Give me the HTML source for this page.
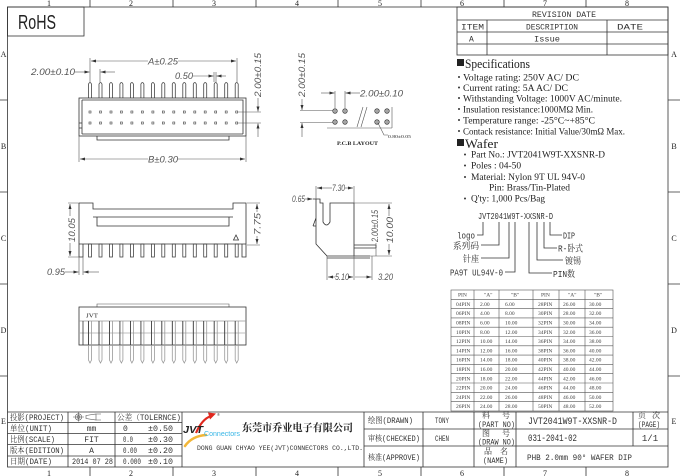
<!DOCTYPE html>
<html><head><meta charset="utf-8"><style>
html,body{margin:0;padding:0;background:#fff;width:680px;height:476px;overflow:hidden}
svg{display:block}
.ln{stroke:#333;stroke-width:0.8;fill:none}
.th{stroke:#555;stroke-width:0.6;fill:none}
.d{font-family:"Liberation Sans",sans-serif;font-style:italic;font-size:9px;fill:#555}
.s{font-family:"Liberation Serif","Noto Serif CJK SC",serif;fill:#222}
.m{font-family:"Liberation Mono","Noto Serif CJK SC",monospace;fill:#333}
.t{font-family:"Liberation Serif",serif;font-size:5.5px;fill:#444}
</style></head><body>
<svg width="680" height="476" viewBox="0 0 680 476" xmlns="http://www.w3.org/2000/svg">
<defs>
<marker id="a" viewBox="0 0 10 6" refX="10" refY="3" markerWidth="5" markerHeight="3" orient="auto" markerUnits="userSpaceOnUse"><path d="M0,0L10,3L0,6z" fill="#333"/></marker>
<g id="tp"><path d="M-1.5,98V84Q0,81 1.5,84V98" fill="none" stroke="#444" stroke-width="0.8"/><rect x="-1" y="111" width="2" height="2" fill="none" stroke="#444" stroke-width="0.6"/><rect x="-1" y="122" width="2" height="2" fill="none" stroke="#444" stroke-width="0.6"/></g>
<rect id="fp" x="-1.5" y="244" width="3" height="13" fill="none" stroke="#444" stroke-width="0.8"/>
<g id="bp"><path d="M-1.5,321V360L0,363L1.5,360V321" fill="none" stroke="#999" stroke-width="0.8"/><line x1="-1.5" y1="321" x2="-1.5" y2="345" stroke="#333" stroke-width="0.8"/></g>
<g id="h"><circle r="2.2" fill="none" stroke="#333" stroke-width="0.8"/><path d="M-2.2,0H2.2M0,-2.2V2.2" stroke="#333" stroke-width="0.5"/></g>
</defs>

<!-- frame -->
<rect x="7.5" y="7" width="660.5" height="460" class="ln"/>
<path class="ln" d="M90,0V7M173,0V7M256,0V7M338,0V7M421,0V7M504,0V7M586,0V7M90,467V476M173,467V476M256,467V476M338,467V476M421,467V476M504,467V476M586,467V476M0,100H7.5M0,192H7.5M0,284H7.5M0,376H7.5M668,100H680M668,192H680M668,284H680M668,376H680"/>
<g class="s" font-size="8" fill="#555" text-anchor="middle">
<text x="49" y="6">1</text><text x="131" y="6">2</text><text x="214" y="6">3</text><text x="297" y="6">4</text><text x="380" y="6">5</text><text x="462" y="6">6</text><text x="545" y="6">7</text><text x="627" y="6">8</text>
<text x="49" y="476">1</text><text x="131" y="476">2</text><text x="214" y="476">3</text><text x="297" y="476">4</text><text x="380" y="476">5</text><text x="462" y="476">6</text><text x="545" y="476">7</text><text x="627" y="476">8</text>
<text x="3.5" y="57">A</text><text x="3.5" y="149">B</text><text x="3.5" y="241">C</text><text x="3.5" y="333">D</text><text x="3.5" y="424">E</text>
<text x="674" y="57">A</text><text x="674" y="149">B</text><text x="674" y="241">C</text><text x="674" y="333">D</text><text x="674" y="424">E</text>
</g>

<!-- RoHS -->
<rect x="7.5" y="7" width="76.5" height="29" class="ln"/>
<text x="18" y="29" font-family="Liberation Sans,sans-serif" font-size="20" fill="#222" textLength="38" lengthAdjust="spacingAndGlyphs">RoHS</text>

<!-- TOP VIEW -->
<use href="#tp" x="90"/><use href="#tp" x="100.5"/><use href="#tp" x="111"/><use href="#tp" x="121.4"/><use href="#tp" x="131.9"/><use href="#tp" x="142.4"/><use href="#tp" x="152.9"/><use href="#tp" x="163.3"/><use href="#tp" x="173.8"/><use href="#tp" x="184.3"/><use href="#tp" x="194.8"/><use href="#tp" x="205.2"/><use href="#tp" x="215.7"/><use href="#tp" x="226.2"/><use href="#tp" x="236.7"/>
<rect x="79" y="98" width="167" height="38" class="ln"/>
<path class="ln" d="M82,100V134M82,100H243V134M82,134H243M97,136V140H229V136M79,123H82M79,128H82"/>
<!-- dims top view -->
<path class="th" d="M90,58V82M237,58V82M100,69V82M214,72V82M216,72V82"/>
<path class="th" d="M148,61H91" marker-end="url(#a)"/><path class="th" d="M178,61H236" marker-end="url(#a)"/>
<text class="d" x="148" y="64.5" textLength="30" lengthAdjust="spacingAndGlyphs">A±0.25</text>
<text class="d" x="31" y="75" textLength="44" lengthAdjust="spacingAndGlyphs">2.00±0.10</text>
<path class="th" d="M75,72H89.5" marker-end="url(#a)"/><path class="th" d="M115,72H100.5" marker-end="url(#a)"/>
<text class="d" x="175" y="79" textLength="18" lengthAdjust="spacingAndGlyphs">0.50</text>
<path class="th" d="M193,76H213.5" marker-end="url(#a)"/><path class="th" d="M226,76H216.5" marker-end="url(#a)"/>
<path class="th" d="M79,136V162M246,136V162"/>
<path class="th" d="M148,159H80" marker-end="url(#a)"/><path class="th" d="M178,159H245" marker-end="url(#a)"/>
<text class="d" x="148" y="162.5" textLength="30" lengthAdjust="spacingAndGlyphs">B±0.30</text>
<!-- right side dim -->
<path class="th" d="M238,112H261M238,123H261"/>
<path class="th" d="M258,98V111.5" marker-end="url(#a)"/><path class="th" d="M258,137V123.5" marker-end="url(#a)"/>
<text class="d" transform="translate(261,97) rotate(-90)" textLength="44" lengthAdjust="spacingAndGlyphs">2.00±0.15</text>

<!-- PCB LAYOUT -->
<use href="#h" x="335" y="111"/><use href="#h" x="345" y="111"/><use href="#h" x="377" y="111"/><use href="#h" x="387" y="111"/>
<use href="#h" x="335" y="122"/><use href="#h" x="345" y="122"/><use href="#h" x="377" y="122"/><use href="#h" x="387" y="122"/>
<text class="d" transform="translate(305,97) rotate(-90)" textLength="44" lengthAdjust="spacingAndGlyphs">2.00±0.15</text>
<path class="th" d="M300,110.5H333M300,122.5H333M335,91V108M345,91V108M392,107V128M327,128H392M357,127L363,107M361,127L367,107M378,123L384,135H388"/>
<path class="th" d="M302,99V110" marker-end="url(#a)"/><path class="th" d="M302,137V123" marker-end="url(#a)"/>
<path class="th" d="M321,93H334.5" marker-end="url(#a)"/><path class="th" d="M360,93H345.5" marker-end="url(#a)"/>
<text class="d" x="360" y="96.5" textLength="43" lengthAdjust="spacingAndGlyphs">2.00±0.10</text>
<text class="s" x="388" y="138" font-size="4.5" textLength="23" lengthAdjust="spacingAndGlyphs">0.80±0.05</text>
<text class="s" x="337" y="145" font-size="5.5" font-weight="bold" textLength="41" lengthAdjust="spacingAndGlyphs">P.C.B LAYOUT</text>

<!-- REVISION TABLE -->
<rect x="457" y="7" width="211" height="48" class="ln"/>
<path class="ln" d="M457,20H668M457,32H668M457,44H668M487,20V55M607,20V55"/>
<g class="m" font-size="8">
<text x="532" y="17" textLength="64" lengthAdjust="spacingAndGlyphs">REVISION DATE</text>
<text x="461" y="29.5" textLength="23" lengthAdjust="spacingAndGlyphs">ITEM</text>
<text x="526" y="29.5" textLength="52" lengthAdjust="spacingAndGlyphs">DESCRIPTION</text>
<text x="617" y="29.5" textLength="26" lengthAdjust="spacingAndGlyphs">DATE</text>
<text x="469" y="41.5">A</text>
<text x="534" y="41.5" textLength="26" lengthAdjust="spacingAndGlyphs">Issue</text>
</g>

<!-- SPECIFICATIONS -->
<rect x="457" y="59" width="7" height="7" fill="#222"/>
<text class="s" x="465" y="68" font-size="12.5" textLength="65" lengthAdjust="spacingAndGlyphs">Specifications</text>
<g fill="#333"><circle cx="459" cy="77" r="1"/><circle cx="459" cy="87.5" r="1"/><circle cx="459" cy="98" r="1"/><circle cx="459" cy="109" r="1"/><circle cx="459" cy="120" r="1"/><circle cx="459" cy="131" r="1"/></g>
<g class="s" font-size="9.5">
<text x="463" y="80.5" textLength="116" lengthAdjust="spacingAndGlyphs">Voltage rating: 250V AC/ DC</text>
<text x="463" y="91" textLength="105" lengthAdjust="spacingAndGlyphs">Current rating: 5A AC/ DC</text>
<text x="463" y="101.5" textLength="159" lengthAdjust="spacingAndGlyphs">Withstanding Voltage: 1000V AC/minute.</text>
<text x="463" y="112.5" textLength="130" lengthAdjust="spacingAndGlyphs">Insulation resistance:1000MΩ Min.</text>
<text x="463" y="123.5" textLength="132" lengthAdjust="spacingAndGlyphs">Temperature range: -25°C~+85°C</text>
<text x="463" y="134.5" textLength="162" lengthAdjust="spacingAndGlyphs">Contack resistance: Initial Value/30mΩ Max.</text>
</g>
<rect x="457" y="139" width="7" height="7" fill="#222"/>
<text class="s" x="465" y="148" font-size="12.5" textLength="33" lengthAdjust="spacingAndGlyphs">Wafer</text>
<g fill="#333"><circle cx="465" cy="154.5" r="1"/><circle cx="465" cy="165.5" r="1"/><circle cx="465" cy="177" r="1"/><circle cx="465" cy="198.5" r="1"/></g>
<g class="s" font-size="9.5">
<text x="471" y="157.5" textLength="134" lengthAdjust="spacingAndGlyphs">Part No.: JVT2041W9T-XXSNR-D</text>
<text x="471" y="168.5">Poles : 04-50</text>
<text x="471" y="180" textLength="114" lengthAdjust="spacingAndGlyphs">Material: Nylon 9T UL 94V-0</text>
<text x="489" y="190.5" textLength="81" lengthAdjust="spacingAndGlyphs">Pin: Brass/Tin-Plated</text>
<text x="471" y="201.5" textLength="74" lengthAdjust="spacingAndGlyphs">Q'ty: 1,000 Pcs/Bag</text>
</g>

<!-- part number breakdown -->
<g class="m" font-size="9">
<text x="478" y="219" textLength="75" lengthAdjust="spacingAndGlyphs">JVT2041W9T-XXSNR-D</text>
<text x="457" y="238.5" textLength="18" lengthAdjust="spacingAndGlyphs">logo</text>
<text x="453" y="249" textLength="26" lengthAdjust="spacingAndGlyphs">系列码</text>
<text x="463" y="262" textLength="16" lengthAdjust="spacingAndGlyphs">针座</text>
<text x="450" y="275.5" textLength="53" lengthAdjust="spacingAndGlyphs">PA9T UL94V-0</text>
<text x="563" y="238.5" textLength="12" lengthAdjust="spacingAndGlyphs">DIP</text>
<text x="558" y="251.5" textLength="25" lengthAdjust="spacingAndGlyphs">R-卧式</text>
<text x="565" y="264" textLength="16" lengthAdjust="spacingAndGlyphs">镀锡</text>
<text x="553" y="277" textLength="22" lengthAdjust="spacingAndGlyphs">PIN数</text>
</g>
<path class="ln" d="M477,235H483V222M481,245H499V222M481,258H509V222M505,272H515V222M550,222V235H562M544,222V248H557M537,222V260H563M529,222V273H552"/>

<!-- FRONT VIEW -->
<path class="ln" d="M79,203H93V209H233V203H246V244H79V203M79,203V257H83V244M93,217H233M97,217V226H229V217M242,244V257H246V244"/>
<use href="#fp" x="90"/><use href="#fp" x="100.5"/><use href="#fp" x="111"/><use href="#fp" x="121.4"/><use href="#fp" x="131.9"/><use href="#fp" x="142.4"/><use href="#fp" x="152.9"/><use href="#fp" x="163.3"/><use href="#fp" x="173.8"/><use href="#fp" x="184.3"/><use href="#fp" x="194.8"/><use href="#fp" x="205.2"/><use href="#fp" x="215.7"/><use href="#fp" x="226.2"/><use href="#fp" x="236.7"/>
<path class="ln" d="M236,235L233.5,240H238.5Z"/>
<path class="th" d="M68,203H79M68,257H79M79,257V275M83,257V275M247,203H260M247,245H260"/>
<path class="th" d="M70,216V204" marker-end="url(#a)"/><path class="th" d="M70,243V256" marker-end="url(#a)"/>
<text class="d" transform="translate(75,242) rotate(-90)" textLength="24" lengthAdjust="spacingAndGlyphs">10.05</text>
<path class="th" d="M257,212V204" marker-end="url(#a)"/><path class="th" d="M257,236V244" marker-end="url(#a)"/>
<text class="d" transform="translate(260.5,235) rotate(-90)" textLength="22" lengthAdjust="spacingAndGlyphs">7.75</text>
<text class="d" x="47" y="275" textLength="18" lengthAdjust="spacingAndGlyphs">0.95</text>
<path class="th" d="M65,272H78.5" marker-end="url(#a)"/><path class="th" d="M99,272H83.5" marker-end="url(#a)"/>

<!-- SIDE VIEW -->
<path class="ln" d="M313,199H320V203H323V222Q326.5,228 330,222V203H354V256M316,199V244L327,256H370M313,226L316,218M313,226H316M327,258H370M354,245H376M354,248H376M376,245V248"/>
<path class="th" d="M316,186V199M354,186V280M354,203H392M370,256H392M327,256V280M372,256V280M376,243V256"/>
<path class="th" d="M332,188H317" marker-end="url(#a)"/><path class="th" d="M345,188H353" marker-end="url(#a)"/>
<text class="d" x="332" y="191" font-size="8" textLength="13" lengthAdjust="spacingAndGlyphs">7.30</text>
<text class="d" x="292" y="202" font-size="8" textLength="13" lengthAdjust="spacingAndGlyphs">0.65</text>
<path class="th" d="M305,199H312.5" marker-end="url(#a)"/>
<path class="th" d="M389,216V204" marker-end="url(#a)"/><path class="th" d="M389,244V255" marker-end="url(#a)"/>
<text class="d" transform="translate(393,243) rotate(-90)" textLength="26" lengthAdjust="spacingAndGlyphs">10.00</text>
<text class="d" transform="translate(378,242) rotate(-90)" font-size="6" textLength="32" lengthAdjust="spacingAndGlyphs">2.00±0.15</text>
<path class="th" d="M335,277H328" marker-end="url(#a)"/><path class="th" d="M349,277H353" marker-end="url(#a)"/>
<text class="d" x="335" y="280" font-size="8" textLength="14" lengthAdjust="spacingAndGlyphs">5.10</text>
<path class="th" d="M355,277H371.5" marker-end="url(#a)"/>
<text class="d" x="378" y="280" font-size="8" textLength="15" lengthAdjust="spacingAndGlyphs">3.20</text>

<!-- BOTTOM VIEW -->
<path class="th" d="M97,307V304H229V307"/>
<rect x="79" y="307" width="167" height="38" class="ln"/>
<path d="M79,321H246" stroke="#999" stroke-width="0.7"/><path d="M79,333H246" stroke="#aaa" stroke-width="0.7"/>
<path class="ln" d="M83,321V345"/>
<text class="s" x="86" y="317.5" font-size="6.5" textLength="12" lengthAdjust="spacingAndGlyphs">JVT</text>
<use href="#bp" x="90"/><use href="#bp" x="100.5"/><use href="#bp" x="111"/><use href="#bp" x="121.4"/><use href="#bp" x="131.9"/><use href="#bp" x="142.4"/><use href="#bp" x="152.9"/><use href="#bp" x="163.3"/><use href="#bp" x="173.8"/><use href="#bp" x="184.3"/><use href="#bp" x="194.8"/><use href="#bp" x="205.2"/><use href="#bp" x="215.7"/><use href="#bp" x="226.2"/><use href="#bp" x="236.7"/>

<!-- PIN TABLE -->
<rect x="451" y="290" width="162" height="121" class="th"/>
<path class="th" d="M474,290V411M499,290V411M533,290V411M559,290V411M585,290V411M451,299.3H613M451,308.6H613M451,317.9H613M451,327.2H613M451,336.5H613M451,345.8H613M451,355.1H613M451,364.4H613M451,373.7H613M451,383H613M451,392.3H613M451,401.6H613"/>
<g class="t">
<text x="458" y="296.6">PIN</text><text x="484" y="296.6">"A"</text><text x="511" y="296.6">"B"</text><text x="541" y="296.6">PIN</text><text x="568" y="296.6">"A"</text><text x="594" y="296.6">"B"</text>
<text x="456" y="305.9">04PIN</text><text x="480" y="305.9">2.00</text><text x="505" y="305.9">6.00</text><text x="538" y="305.9">28PIN</text><text x="563" y="305.9">26.00</text><text x="589" y="305.9">30.00</text>
<text x="456" y="315.2">06PIN</text><text x="480" y="315.2">4.00</text><text x="505" y="315.2">8.00</text><text x="538" y="315.2">30PIN</text><text x="563" y="315.2">28.00</text><text x="589" y="315.2">32.00</text>
<text x="456" y="324.5">08PIN</text><text x="480" y="324.5">6.00</text><text x="505" y="324.5">10.00</text><text x="538" y="324.5">32PIN</text><text x="563" y="324.5">30.00</text><text x="589" y="324.5">34.00</text>
<text x="456" y="333.8">10PIN</text><text x="480" y="333.8">8.00</text><text x="505" y="333.8">12.00</text><text x="538" y="333.8">34PIN</text><text x="563" y="333.8">32.00</text><text x="589" y="333.8">36.00</text>
<text x="456" y="343.1">12PIN</text><text x="480" y="343.1">10.00</text><text x="505" y="343.1">14.00</text><text x="538" y="343.1">36PIN</text><text x="563" y="343.1">34.00</text><text x="589" y="343.1">38.00</text>
<text x="456" y="352.4">14PIN</text><text x="480" y="352.4">12.00</text><text x="505" y="352.4">16.00</text><text x="538" y="352.4">38PIN</text><text x="563" y="352.4">36.00</text><text x="589" y="352.4">40.00</text>
<text x="456" y="361.7">16PIN</text><text x="480" y="361.7">14.00</text><text x="505" y="361.7">18.00</text><text x="538" y="361.7">40PIN</text><text x="563" y="361.7">38.00</text><text x="589" y="361.7">42.00</text>
<text x="456" y="371">18PIN</text><text x="480" y="371">16.00</text><text x="505" y="371">20.00</text><text x="538" y="371">42PIN</text><text x="563" y="371">40.00</text><text x="589" y="371">44.00</text>
<text x="456" y="380.3">20PIN</text><text x="480" y="380.3">18.00</text><text x="505" y="380.3">22.00</text><text x="538" y="380.3">44PIN</text><text x="563" y="380.3">42.00</text><text x="589" y="380.3">46.00</text>
<text x="456" y="389.6">22PIN</text><text x="480" y="389.6">20.00</text><text x="505" y="389.6">24.00</text><text x="538" y="389.6">46PIN</text><text x="563" y="389.6">44.00</text><text x="589" y="389.6">48.00</text>
<text x="456" y="398.9">24PIN</text><text x="480" y="398.9">22.00</text><text x="505" y="398.9">26.00</text><text x="538" y="398.9">48PIN</text><text x="563" y="398.9">46.00</text><text x="589" y="398.9">50.00</text>
<text x="456" y="408.2">26PIN</text><text x="480" y="408.2">24.00</text><text x="505" y="408.2">28.00</text><text x="538" y="408.2">50PIN</text><text x="563" y="408.2">48.00</text><text x="589" y="408.2">52.00</text>
</g>

<!-- TITLE BLOCK -->
<path class="ln" d="M7.5,412H668M7.5,422.5H182M7.5,433.5H182M7.5,444.5H182M7.5,456H182M68,412V467M115,412V467M182,412V467M364,412V467M423,412V467M474,412V467M516,412V467M633,412V446M364,429H668M364,446H668"/>
<g class="m" font-size="8">
<text x="10" y="420" textLength="54" lengthAdjust="spacingAndGlyphs">投影(PROJECT)</text>
<text x="10" y="431" textLength="42" lengthAdjust="spacingAndGlyphs">单位(UNIT)</text>
<text x="10" y="442" textLength="45" lengthAdjust="spacingAndGlyphs">比例(SCALE)</text>
<text x="10" y="453" textLength="54" lengthAdjust="spacingAndGlyphs">版本(EDITION)</text>
<text x="10" y="464" textLength="42" lengthAdjust="spacingAndGlyphs">日期(DATE)</text>
<text x="91.5" y="431" text-anchor="middle">mm</text>
<text x="91.5" y="442" text-anchor="middle">FIT</text>
<text x="91.5" y="453" text-anchor="middle">A</text>
<text x="72" y="464" textLength="41" lengthAdjust="spacingAndGlyphs">2014 07 28</text>
<text x="117" y="420" textLength="64" lengthAdjust="spacingAndGlyphs">公差（TOLERNCE)</text>
<text x="123" y="431">0</text><text x="148" y="431" textLength="25" lengthAdjust="spacingAndGlyphs">±0.50</text>
<text x="123" y="442" textLength="10" lengthAdjust="spacingAndGlyphs">0.0</text><text x="148" y="442" textLength="25" lengthAdjust="spacingAndGlyphs">±0.30</text>
<text x="123" y="453" textLength="14" lengthAdjust="spacingAndGlyphs">0.00</text><text x="148" y="453" textLength="25" lengthAdjust="spacingAndGlyphs">±0.20</text>
<text x="123" y="464" textLength="18" lengthAdjust="spacingAndGlyphs">0.000</text><text x="148" y="464" textLength="25" lengthAdjust="spacingAndGlyphs">±0.10</text>
</g>
<!-- projection symbol -->
<circle cx="78.5" cy="417" r="3.2" class="th"/><circle cx="78.5" cy="417" r="1.4" class="th"/>
<path class="th" d="M73,417H84M78.5,412.5V421.5M86,415.5L96,414V420L86,418.5ZM96,414H101M96,420H101"/>
<!-- logo -->
<path d="M185,446Q192,436 206,435" stroke="#f2b638" stroke-width="2.5" fill="none" stroke-linecap="round"/>
<path d="M196,433Q202,419 211,416" stroke="#e0281e" stroke-width="2.2" fill="none"/>
<path d="M208,412.5L216,413.5L210,419.5Z" fill="#e0281e"/>
<text x="183" y="433" font-family="Liberation Sans,sans-serif" font-weight="bold" font-style="italic" font-size="10" fill="#222" textLength="20" lengthAdjust="spacingAndGlyphs">JVT</text>
<text x="217" y="416" font-family="Liberation Sans,sans-serif" font-size="4" fill="#444">®</text>
<text x="204" y="436" font-family="Liberation Sans,sans-serif" font-size="7" fill="#38b6e6" textLength="36" lengthAdjust="spacingAndGlyphs">Connectors</text>
<text x="242" y="431" font-family="'Noto Serif CJK SC','Noto Sans CJK SC',serif" font-weight="bold" font-size="10.5" fill="#222" textLength="111" lengthAdjust="spacingAndGlyphs">东莞市乔业电子有限公司</text>
<text class="m" x="197" y="450" font-size="6.5" textLength="166" lengthAdjust="spacingAndGlyphs">DONG GUAN CHYAO YEE(JVT)CONNECTORS CO.,LTD.</text>
<g class="m" font-size="8">
<text x="368" y="423" textLength="45" lengthAdjust="spacingAndGlyphs">绘图(DRAWN)</text>
<text x="368" y="441" textLength="52" lengthAdjust="spacingAndGlyphs">审核(CHECKED)</text>
<text x="368" y="460" textLength="52" lengthAdjust="spacingAndGlyphs">核准(APPROVE)</text>
<text x="435" y="423" textLength="14" lengthAdjust="spacingAndGlyphs">TONY</text>
<text x="435" y="441" textLength="14" lengthAdjust="spacingAndGlyphs">CHEN</text>
<text x="482" y="418">料</text><text x="502" y="418">号</text>
<text x="478" y="427" textLength="37" lengthAdjust="spacingAndGlyphs">(PART NO)</text>
<text x="482" y="436">图</text><text x="502" y="436">号</text>
<text x="478" y="444.5" textLength="37" lengthAdjust="spacingAndGlyphs">(DRAW NO)</text>
<text x="484" y="454">品</text><text x="500" y="454">名</text>
<text x="483" y="463" textLength="25" lengthAdjust="spacingAndGlyphs">(NAME)</text>
<text x="638" y="418">页</text><text x="652" y="418">次</text>
<text x="638" y="427" textLength="22" lengthAdjust="spacingAndGlyphs">(PAGE)</text>
<text x="650" y="441" text-anchor="middle" font-size="9">1/1</text>
<text x="528" y="424" font-size="10" textLength="89" lengthAdjust="spacingAndGlyphs">JVT2041W9T-XXSNR-D</text>
<text x="528" y="441" font-size="10" textLength="49" lengthAdjust="spacingAndGlyphs">031-2041-02</text>
<text x="527" y="460" textLength="105" lengthAdjust="spacingAndGlyphs">PHB 2.0mm 90° WAFER DIP</text>
</g>
</svg>
</body></html>
